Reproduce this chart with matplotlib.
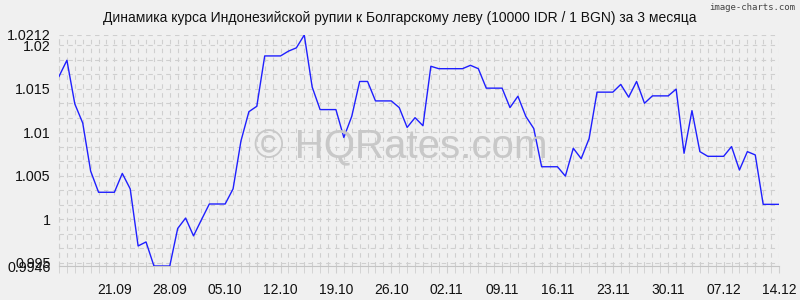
import numpy as np
import pandas as pd
import matplotlib
matplotlib.use("Agg")
import matplotlib.pyplot as plt

plt.rcParams['font.family'] = ['Liberation Sans', 'DejaVu Sans']

# daily rate, 14.09 .. 14.12
dates = pd.date_range("2020-09-14", "2020-12-14", freq="D")
rates = [1.01643, 1.01829, 1.01326, 1.01106, 1.00553, 1.00309, 1.00309, 1.00309,
         1.00526, 1.00348, 0.99691, 0.99737, 0.9946, 0.9946, 0.9946, 0.99892,
         1.00012, 0.99807, 0.99992, 1.00174, 1.00174, 1.00174, 1.00348, 1.00901,
         1.01237, 1.01299, 1.01879, 1.01879, 1.01879, 1.01934, 1.01972, 1.0212,
         1.0152, 1.01261, 1.01261, 1.01261, 1.0094, 1.01183, 1.01585, 1.01585,
         1.01361, 1.01361, 1.01361, 1.01284, 1.01056, 1.01168, 1.01075, 1.0176,
         1.01732, 1.01732, 1.01732, 1.01732, 1.01771, 1.01732, 1.01508, 1.01508,
         1.01508, 1.01284, 1.01415, 1.01183, 1.01044, 1.00603, 1.00603, 1.00603,
         1.00495, 1.00816, 1.00696, 1.00928, 1.01462, 1.01462, 1.01462, 1.01551,
         1.01404, 1.01585, 1.01334, 1.01419, 1.01419, 1.01419, 1.01497, 1.00758,
         1.01249, 1.00777, 1.00723, 1.00723, 1.00723, 1.00835, 1.00565, 1.00777,
         1.00739, 1.0017, 1.0017, 1.0017]

xtick_labels = ["21.09", "28.09", "05.10", "12.10", "19.10", "26.10", "02.11",
                "09.11", "16.11", "23.11", "30.11", "07.12", "14.12"]
ytick_values = [0.9946, 0.995, 1.0, 1.005, 1.01, 1.015, 1.02, 1.0212]
ytick_labels = ["0.9946", "0.995", "1", "1.005", "1.01", "1.015", "1.02", "1.0212"]

title = "Динамика курса Индонезийской рупии к Болгарскому леву (10000 IDR / 1 BGN) за 3 месяца"

bg = "#f0f0f0"
grid_c = "#cfcfcf"

fig = plt.figure(figsize=(8, 3), dpi=100, facecolor=bg)
ax = fig.add_axes([59 / 800, 1 - 266 / 300, 720 / 800, 231 / 300], facecolor=bg)

x = np.arange(len(rates))
labels = [d.strftime("%d.%m") for d in dates]

# grid: one vertical line per day, horizontal every third of a 0.005 step
for xi in x:
    ax.axvline(xi, color=grid_c, lw=0.8, ls=(0, (4, 4)), zorder=0)
hlines = np.arange(0.995, 1.0212, 0.005 / 3)
for yv in list(hlines) + [min(rates), max(rates)]:
    ax.axhline(yv, color=grid_c, lw=0.8, ls=(0, (4, 4)), zorder=0)

ax.plot(x, rates, color="#1f1fff", lw=1.0, zorder=3)

ax.set_xlim(0, len(rates) - 1)
ax.set_ylim(min(rates), max(rates))

ax.set_xticks([labels.index(l) for l in xtick_labels])
ax.set_xticklabels(xtick_labels)
ax.set_xticks(x, minor=True)
ax.set_yticks(ytick_values)
ax.set_yticklabels(ytick_labels)

ax.tick_params(axis="x", which="major", length=5, color=grid_c, pad=7, labelsize=10, labelcolor="#111111")
ax.tick_params(axis="x", which="minor", length=5, color=grid_c)
ax.tick_params(axis="y", length=0, pad=6, labelsize=10.3, labelcolor="#111111")

for side in ["top", "right"]:
    ax.spines[side].set_visible(False)
ax.spines["left"].set_color(grid_c)
ax.spines["left"].set_linestyle((0, (4, 4)))
ax.spines["bottom"].set_color("#c4c4c4")

fig.text(0.5, 1 - 18 / 300, title, ha="center", va="center", fontsize=10, color="#111111")
fig.text(0.994, 1 - 8 / 300, "image-charts.com", ha="right", va="center",
         fontsize=6.5, family="DejaVu Sans Mono", color="#444444")
fig.text(401 / 800, 1 - 147 / 300, "© HQRates.com", ha="center", va="center",
         fontsize=29, color="#c8c8c8", zorder=1)

fig.savefig("out.png", dpi=100, facecolor=bg)
